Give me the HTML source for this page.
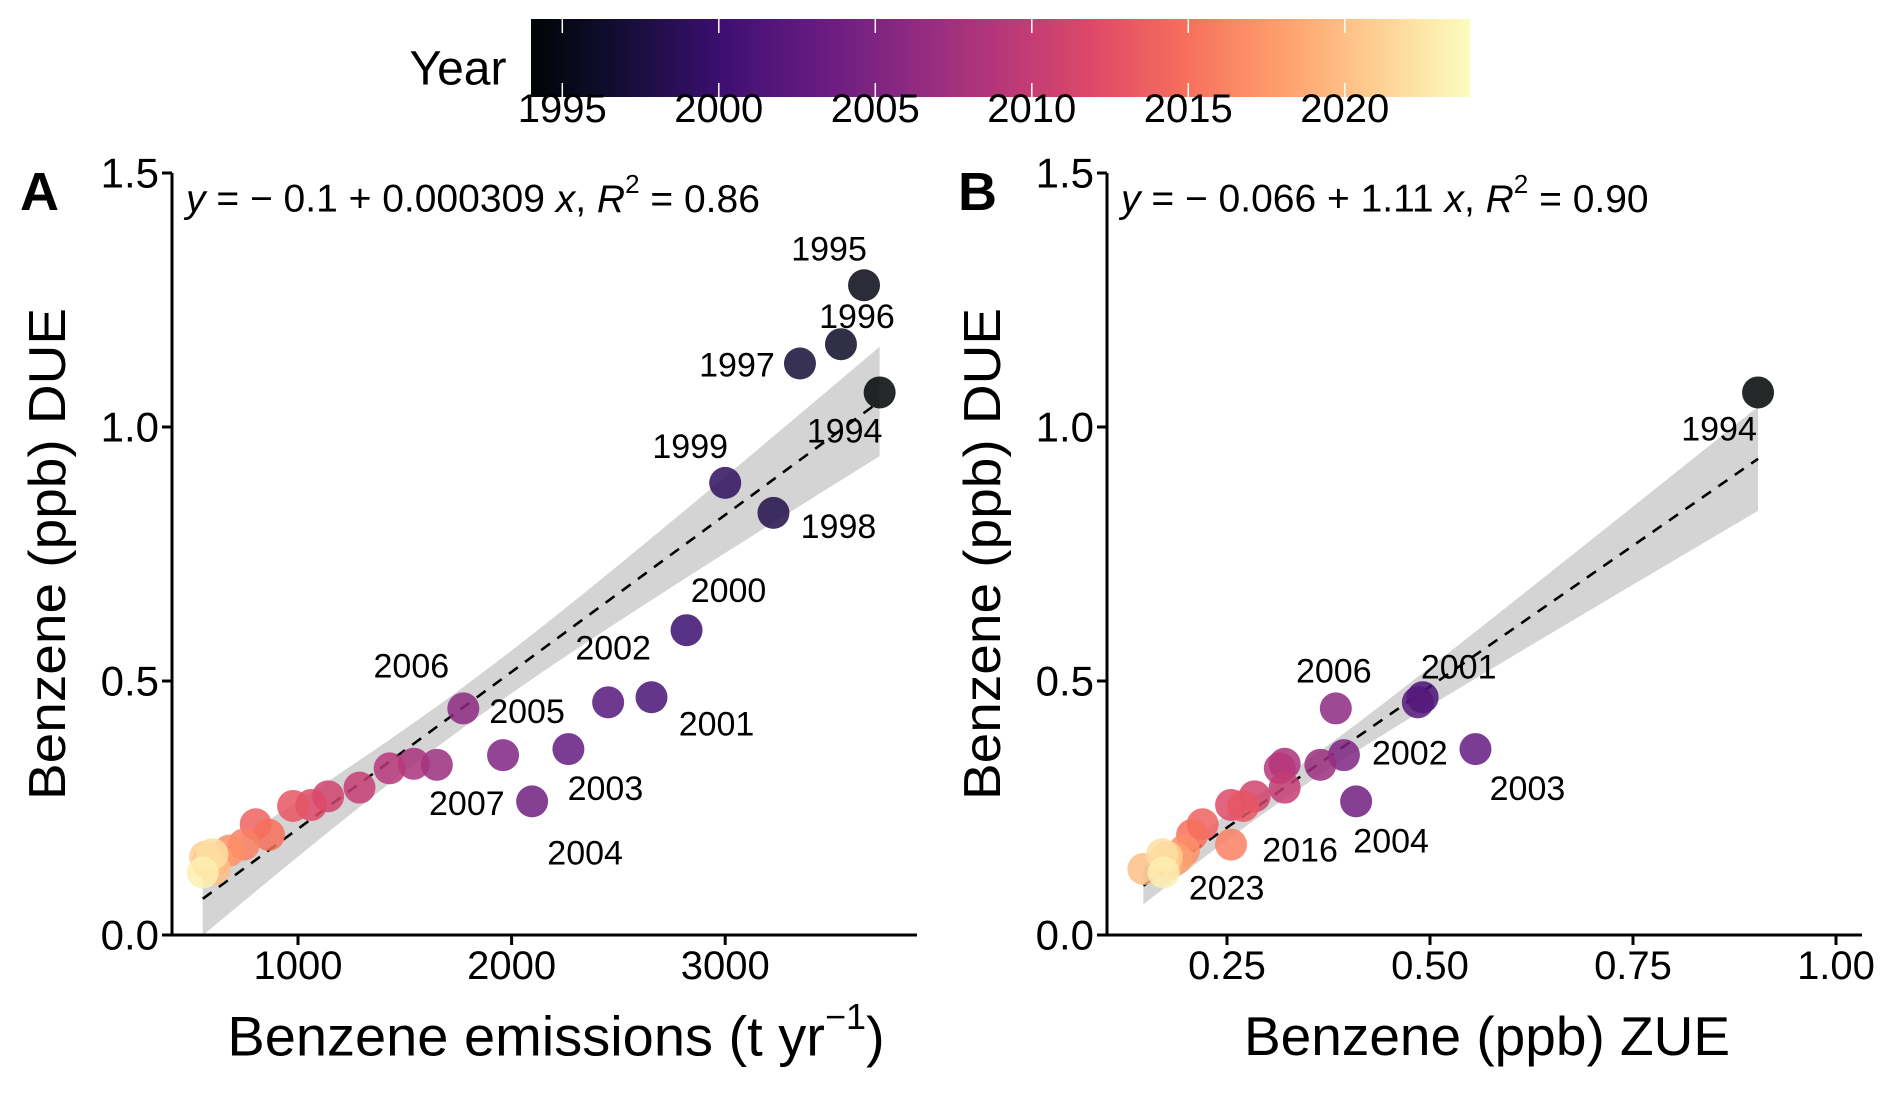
<!DOCTYPE html>
<html><head><meta charset="utf-8"><style>
html,body{margin:0;padding:0;background:#fff}
svg{display:block;font-family:"Liberation Sans",Arial,sans-serif}
</style></head><body>
<svg id="fig" width="1892" height="1098" viewBox="0 0 1892 1098"></svg>
<script>
const years = [1994,1995,1996,1997,1998,1999,2000,2001,2002,2003,2004,2005,2006,2007,2008,2009,2010,2011,2012,2013,2014,2015,2016,2017,2018,2019,2020,2021,2022,2023];
const emissions = [3723,3650,3542,3350,3226,3000,2819,2655,2452,2266,2096,1960,1774,1650,1542,1429,1288,1141,1062,977,802,864,746,678,621,576,610,565,599,554];
const due = [1.068,1.279,1.163,1.125,0.831,0.89,0.60,0.468,0.458,0.366,0.263,0.354,0.446,0.335,0.337,0.328,0.290,0.273,0.256,0.254,0.218,0.197,0.178,0.166,0.150,0.142,0.130,0.154,0.159,0.123];
const zueYears = [1994,2001,2002,2003,2004,2005,2006,2007,2008,2009,2010,2011,2012,2013,2014,2015,2016,2017,2018,2019,2020,2021,2022,2023];
const zue = [0.904,0.491,0.485,0.556,0.409,0.394,0.384,0.365,0.321,0.315,0.321,0.284,0.255,0.27,0.22,0.207,0.255,0.197,0.188,0.176,0.147,0.176,0.17,0.172];
const xTicksA = [1000,2000,3000];
const xTicksB = [0.25,0.50,0.75,1.00];
const xTickLabelsB = ["0.25","0.50","0.75","1.00"];
const yTicks = [0,0.5,1,1.5];
const yTickLabels = ["0.0","0.5","1.0","1.5"];
const cbTicks = [1995,2000,2005,2010,2015,2020];
const fitA = [-0.1,0.000309];
const fitB = [-0.066,1.11];
const labelsA = [1995,1996,1997,1994,1999,1998,2000,2001,2002,2003,2004,2005,2006,2007];
const labelsB = [1994,2001,2002,2003,2004,2006,2016,2023];

const NS="http://www.w3.org/2000/svg";
const svg=document.getElementById('fig');
function mk(tag,attrs,parent){const e=document.createElementNS(NS,tag);for(const k in attrs)e.setAttribute(k,attrs[k]);(parent||svg).appendChild(e);return e;}
const magma=[[0,4,4],[20,14,54],[59,15,112],[100,26,128],[140,41,129],[183,55,121],[222,73,104],[247,112,92],[254,159,109],[254,207,146],[252,253,191]];
function cmap(t){t=Math.max(0,Math.min(1,t));const p=t*10,i=Math.min(9,Math.floor(p)),f=p-i;const a=magma[i],b=magma[i+1];return `rgb(${a.map((v,k)=>Math.round(v+(b[k]-v)*f)).join(',')})`;}
const yrMin=1994,yrMax=2024;
const yearColor=y=>cmap((y-yrMin)/(yrMax-yrMin));

// colorbar
const cbX0=531,cbX1=1470,cbY0=19,cbY1=97;
const grad=mk('linearGradient',{id:'mg',x1:'0',x2:'1',y1:'0',y2:'0'},mk('defs',{}));
for(let i=0;i<=20;i++)mk('stop',{offset:i/20,'stop-color':cmap(i/20)},grad);
const cb=mk('g',{});


mk('rect',{x:cbX0,y:cbY0,width:cbX1-cbX0,height:cbY1-cbY0,fill:'url(#mg)'},cb);
const cbx=y=>cbX0+(y-yrMin)/(yrMax-yrMin)*(cbX1-cbX0);
const yt=mk('text',{x:458,y:69,'font-size':48,'text-anchor':'middle','dominant-baseline':'central'},cb);yt.textContent='Year';


cbTicks.forEach(y=>{const x=cbx(y);
 mk('line',{x1:x,x2:x,y1:cbY0,y2:cbY0+14,stroke:'#fff','stroke-width':1.5},cb);
 mk('line',{x1:x,x2:x,y1:cbY1-14,y2:cbY1,stroke:'#fff','stroke-width':1.5},cb);
 const t=mk('text',{x:x,y:109,'font-size':40,'text-anchor':'middle','dominant-baseline':'central'},cb);t.textContent=y;
 
 
});

function panel(o){
 const g=mk('g',{});
 
 
 const X=v=>o.px0+(v-o.v0)*o.pxPer, Y=v=>935-v*508;
 const xs=o.xs, n=xs.length, mean=xs.reduce((a,b)=>a+b,0)/n;
 const lo=Math.min(...xs),hi=Math.max(...xs);
 const se=x=>Math.sqrt(o.se0*o.se0+o.se1*o.se1*Math.pow((x-mean)/(hi-mean),2));
 const fit=x=>o.fit[0]+o.fit[1]*x;
 let up=[],dn=[];
 for(let i=0;i<=40;i++){const x=lo+(hi-lo)*i/40;up.push(`${X(x)},${Y(fit(x)+se(x))}`);dn.unshift(`${X(x)},${Y(fit(x)-se(x))}`);}
 const band=mk('polygon',{points:up.concat(dn).join(' '),fill:'#d4d4d4'},g);
 
 
 const fl=mk('line',{x1:X(lo),y1:Y(fit(lo)),x2:X(hi),y2:Y(fit(hi)),stroke:'#000','stroke-width':2.6,'stroke-dasharray':'11,9'},g);
 
 
 o.ys.forEach((yv,i)=>{const c=mk('circle',{cx:X(o.xs[i]),cy:Y(yv),r:16,fill:yearColor(o.years[i]),'fill-opacity':0.85},g);
  
  });
 o.labels.forEach((yr,j)=>{const i=o.years.indexOf(yr);const t=mk('text',{x:X(o.xs[i])+o.off[j][0],y:Y(o.ys[i])+o.off[j][1],'font-size':34,'text-anchor':'middle','dominant-baseline':'central'},g);t.textContent=yr;
  
  });
 mk('line',{x1:o.ax,y1:173,x2:o.ax,y2:936.5,stroke:'#000','stroke-width':3},g);
 mk('line',{x1:o.ax-1.5,y1:935,x2:o.axEnd,y2:935,stroke:'#000','stroke-width':3},g);
 yTicks.forEach((v,k)=>{mk('line',{x1:o.ax-10,x2:o.ax,y1:Y(v),y2:Y(v),stroke:'#000','stroke-width':3},g);
  const t=mk('text',{x:o.ax-13,y:Y(v),'font-size':42,'text-anchor':'end','dominant-baseline':'central'},g);t.textContent=yTickLabels[k];
  
  });
 o.xt.forEach((v,k)=>{mk('line',{x1:X(v),x2:X(v),y1:935,y2:945,stroke:'#000','stroke-width':3},g);
  const t=mk('text',{x:X(v),y:966,'font-size':40,'text-anchor':'middle','dominant-baseline':'central'},g);t.textContent=o.xtl[k];
  
  });
 const yl=mk('text',{x:0,y:0,'font-size':52,'text-anchor':'middle','dominant-baseline':'central',transform:`translate(${o.ax-124},554) rotate(-90)`,textLength:492,lengthAdjust:'spacingAndGlyphs'},g);yl.textContent='Benzene (ppb) DUE';
 
 
 const xl=mk('text',{x:o.xtitleX,y:1036,'font-size':o.xtitleSize,'text-anchor':'middle','dominant-baseline':'central'},g);
 
 
 if(o.name==='panel-a'){xl.innerHTML='Benzene emissions (t yr<tspan dy="-20" font-size="36">−1</tspan><tspan dy="20">)</tspan>';}
 else xl.textContent='Benzene (ppb) ZUE';
 const eq=mk('text',{x:o.ax+14,y:199,'font-size':39,'dominant-baseline':'central'},g);
 eq.innerHTML=`<tspan font-style="italic">y</tspan> = − ${o.eqA} + ${o.eqB} <tspan font-style="italic">x</tspan>, <tspan font-style="italic">R</tspan><tspan dy="-15" font-size="26">2</tspan><tspan dy="15"> = ${o.r2}</tspan>`;
 
 
 const pl=mk('text',{x:o.letterX,y:192,'font-size':54,'font-weight':'bold','dominant-baseline':'central'},g);pl.textContent=o.letter;
 
 
}
panel({name:'panel-a',letter:'A',letterX:20,px0:298,v0:1000,pxPer:0.2136,ax:172,axEnd:917,xs:emissions,ys:due,years:years,fit:fitA,se0:0.04,se1:0.1,xt:xTicksA,xtl:xTicksA.map(String),xtitleX:556,xtitleSize:56,eqA:'0.1',eqB:'0.000309',r2:'0.86',labels:labelsA,
 off:[[-35,-36],[16,-27],[-63,2],[-35,39],[-35,-36],[65,14],[42,-39],[65,27],[5,-54],[37,40],[53,52],[24,-43],[-52,-42],[30,39]]});
const dueB=zueYears.map(y=>due[years.indexOf(y)]);
panel({name:'panel-b',letter:'B',letterX:958,px0:1227,v0:0.25,pxPer:812,ax:1107,axEnd:1862,xs:zue,ys:dueB,years:zueYears,fit:fitB,se0:0.022,se1:0.1,xt:xTicksB,xtl:xTickLabelsB,xtitleX:1487,xtitleSize:55,eqA:'0.066',eqB:'1.11',r2:'0.90',labels:labelsB,
 off:[[-39,37],[36,-30],[-8,51],[52,40],[35,40],[-2,-37],[69,6],[63,16]]});
</script>
</body></html>
